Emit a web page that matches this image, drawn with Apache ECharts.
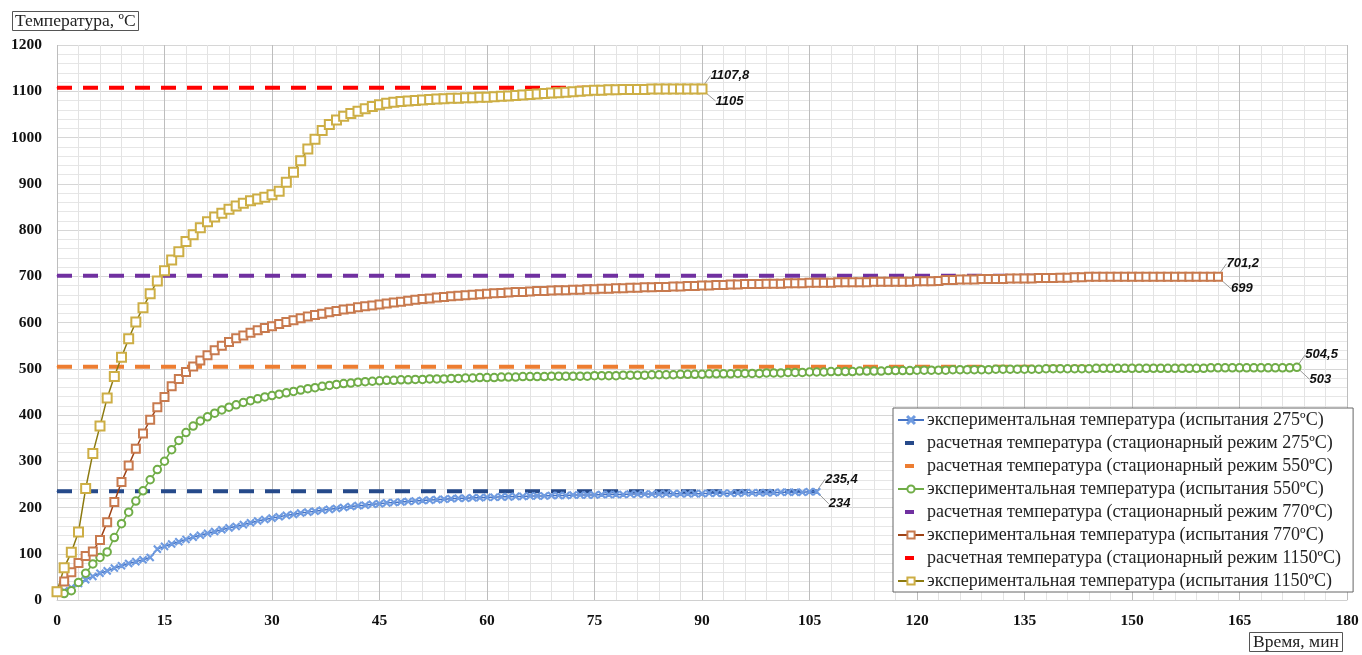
<!DOCTYPE html>
<html>
<head>
<meta charset="utf-8">
<script src="https://cdn.jsdelivr.net/npm/echarts@6/dist/echarts.min.js"></script>
<style>
  html, body { margin: 0; padding: 0; background: #fff; }
  #chart { width: 1362px; height: 655px; }
</style>
</head>
<body>
<div id="chart"></div>
<script>
// experimental curves, one value per minute starting at 0
var exp275 = [18, 20, 27, 36, 44, 51, 58, 63, 69, 74,
  79, 83, 87, 92, 110, 116, 121, 126, 131, 136,
  140, 144, 148, 152, 156, 159, 163, 167, 171, 174,
  177, 180, 183, 185, 188, 190, 192, 194, 196, 198,
  200, 202, 204, 205, 207, 208, 210, 211, 212, 213,
  214, 215, 216, 217, 218, 219, 220, 220, 221, 221,
  222, 222, 223, 223, 224, 224, 225, 225, 225, 226,
  226, 226, 227, 227, 227, 227, 228, 228, 228, 228,
  229, 229, 229, 229, 229, 230, 230, 230, 230, 230,
  230, 231, 231, 231, 231, 231, 232, 232, 232, 232,
  232, 233, 233, 233, 233, 234, 234]
var exp550 = [18, 14, 20, 38, 58, 78, 92, 104, 135, 165,
  190, 214, 236, 260, 282, 300, 325, 345, 362, 376,
  387, 396, 404, 411, 417, 422, 427, 431, 435, 439,
  442, 445, 448, 451, 454, 457, 459, 462, 464, 466,
  468, 469, 471, 472, 473, 474, 475, 475, 476, 476,
  477, 477, 478, 478, 478, 479, 479, 480, 480, 481,
  481, 481, 482, 482, 482, 483, 483, 483, 483, 484,
  484, 484, 484, 484, 484, 485, 485, 485, 485, 486,
  486, 486, 486, 487, 487, 487, 487, 488, 488, 488,
  488, 489, 489, 489, 489, 490, 490, 490, 490, 491,
  491, 491, 492, 492, 492, 493, 493, 493, 494, 494,
  494, 494, 495, 495, 495, 495, 496, 496, 496, 496,
  497, 497, 497, 497, 497, 498, 498, 498, 498, 498,
  498, 499, 499, 499, 499, 499, 499, 499, 500, 500,
  500, 500, 500, 500, 500, 501, 501, 501, 501, 501,
  501, 501, 501, 501, 501, 501, 501, 501, 501, 501,
  501, 502, 502, 502, 502, 502, 502, 502, 502, 502,
  502, 502, 502, 503]
var exp770 = [18, 40, 60, 80, 95, 105, 130, 168, 212, 255,
  291, 327, 360, 390, 417, 439, 462, 478, 493, 505,
  518, 529, 540, 550, 558, 566, 572, 578, 583, 588,
  592, 597, 601, 605, 609, 613, 616, 619, 622, 625,
  628, 630, 633, 635, 637, 639, 641, 643, 645, 647,
  649, 651, 652, 654, 655, 657, 658, 659, 660, 661,
  662, 663, 664, 665, 666, 666, 667, 668, 668, 669,
  670, 670, 671, 671, 672, 672, 673, 673, 674, 674,
  675, 675, 676, 676, 677, 677, 678, 678, 679, 679,
  680, 680, 681, 681, 682, 682, 683, 683, 683, 684,
  684, 684, 685, 685, 685, 686, 686, 686, 686, 687,
  687, 687, 687, 687, 688, 688, 688, 688, 688, 688,
  689, 689, 689, 690, 692, 692, 693, 693, 693, 694,
  694, 694, 694, 695, 695, 695, 695, 696, 696, 696,
  697, 697, 698, 698, 699, 699, 699, 699, 699, 699,
  699, 699, 699, 699, 699, 699, 699, 699, 699, 699,
  699, 699, 699]
var exp1150 = [18, 70, 103, 147, 241, 317, 376, 437, 483, 525,
  565, 601, 632, 662, 690, 712, 735, 753, 775, 790,
  805, 818, 828, 836, 845, 852, 858, 863, 867, 871,
  876, 884, 903, 925, 950, 975, 996, 1015, 1028, 1038,
  1046, 1052, 1057, 1062, 1067, 1071, 1074, 1076, 1078, 1079,
  1080, 1081, 1082, 1083, 1084, 1085, 1085, 1086, 1086, 1087,
  1087, 1088, 1089, 1090, 1091, 1092, 1093, 1094, 1095, 1096,
  1097, 1098, 1099, 1100, 1101, 1102, 1102, 1103, 1103, 1104,
  1104, 1104, 1104, 1105, 1105, 1105, 1105, 1105, 1105, 1105,
  1105]

// calculated (steady state) levels and where each dashed line stops
var calcModes = ['275', '550', '770', '1150']
var calcValues = [235.4, 504.5, 701.2, 1107.8]
var calcEnds = [106, 173, 162, 90]
var calcLabels = ['235,4', '504,5', '701,2', '1107,8']
var expLabels = ['234', '503', '699', '1105']

var chart = echarts.init(document.getElementById('chart'))

function toPoints(arr) {
  return arr.map(function(v, i) { return [i, v] })
}

var labelStyle = {
  fontFamily: 'Liberation Sans',
  fontWeight: 'bold',
  fontStyle: 'italic',
  fontSize: 13,
  color: '#111'
}
var leader = { show: true, lineStyle: { color: '#999', width: 1 } }

// put a label (with a leader line) only on the last point
function lastLabeled(points, text) {
  var last = points.length - 1
  return points.map(function(p, i) {
    if (i !== last) return p
    return {
      value: p,
      label: Object.assign({ show: true, position: 'right', formatter: text, distance: 2 }, labelStyle)
    }
  })
}

function expSeries(name, arr, color, lineColor, symbol, size, text) {
  return {
    name: name,
    type: 'line',
    data: lastLabeled(toPoints(arr), text),
    symbol: symbol,
    symbolSize: size,
    showSymbol: true,
    lineStyle: { color: lineColor, width: 1.5 },
    itemStyle: { color: color, borderColor: color, borderWidth: 1.1 },
    labelLine: leader,
    labelLayout: { dx: 6, dy: 12 },
    z: 3
  }
}

function calcSeries(idx, color) {
  var pts = [[0, calcValues[idx]], [calcEnds[idx], calcValues[idx]]]
  return {
    name: 'расчетная температура (стационарный режим ' + calcModes[idx] + 'ºC)',
    type: 'line',
    data: lastLabeled(pts, calcLabels[idx]),
    showSymbol: true,
    symbol: 'circle',
    symbolSize: 1,
    lineStyle: { color: color, width: 4, type: [15, 11] },
    itemStyle: { color: color },
    labelLine: leader,
    labelLayout: { dx: 6, dy: -12 },
    z: 2
  }
}

var crossSymbol = 'path://M0,1L1,0L5,4L9,0L10,1L6,5L10,9L9,10L5,6L1,10L0,9L4,5Z'
// short thick dash drawn at the left part of the legend icon box
var dashIcon = 'path://M0,2H0.05V2.05H0Z M7,0H16V4H7Z M25.95,2H26V2.05H25.95Z'

var series = [
  expSeries('экспериментальная температура (испытания 275ºC)', exp275, '#6F9BE0', '#4472C4', crossSymbol, 7, expLabels[0]),
  calcSeries(0, '#264A8A'),
  calcSeries(1, '#ED7D31'),
  expSeries('экспериментальная температура (испытания 550ºC)', exp550, '#70AD47', '#70AD47', 'emptyCircle', 7.5, expLabels[1]),
  calcSeries(2, '#7030A0'),
  expSeries('экспериментальная температура (испытания 770ºC)', exp770, '#C87A4E', '#9E4215', 'emptyRect', 8, expLabels[2]),
  calcSeries(3, '#FF0000'),
  expSeries('экспериментальная температура (испытания 1150ºC)', exp1150, '#CDAE45', '#8C7A10', 'emptyRect', 9, expLabels[3])
]

var boxTitle = {
  fontFamily: 'Liberation Serif',
  fontWeight: 'normal',
  fontSize: 17.5,
  color: '#222'
}

chart.setOption({
  animation: false,
  backgroundColor: '#fff',
  title: [
    {
      text: 'Температура, ºC',
      left: 12,
      top: 11,
      padding: [1, 3],
      borderColor: '#555',
      borderWidth: 1,
      textStyle: boxTitle
    },
    {
      text: 'Время, мин',
      left: 1249,
      top: 632,
      padding: [1, 4],
      borderColor: '#555',
      borderWidth: 1,
      textStyle: boxTitle
    }
  ],
  legend: {
    orient: 'vertical',
    left: 893,
    top: 408,
    padding: [3, 12, 2, 4],
    itemGap: 5,
    itemWidth: 26,
    itemHeight: 9,
    backgroundColor: '#fff',
    borderColor: '#666',
    borderWidth: 1,
    textStyle: { fontFamily: 'Liberation Serif', fontSize: 18, color: '#222', padding: [0, 0, 0, -2] },
    data: series.map(function(s) {
      if (s.symbol === 'circle') {
        return { name: s.name, icon: dashIcon, itemStyle: { color: s.lineStyle.color } }
      }
      return s.name
    })
  },
  grid: { left: 57, top: 45, width: 1290, height: 555, containLabel: false },
  xAxis: {
    type: 'value',
    min: 0,
    max: 180,
    interval: 15,
    axisLine: { show: true, lineStyle: { color: '#d0d0d0' } },
    axisTick: { show: false },
    axisLabel: { margin: 13, fontFamily: 'Liberation Serif', fontWeight: 'bold', fontSize: 15.5, color: '#111' },
    splitLine: { show: true, lineStyle: { color: '#bdbdbd', width: 1 } },
    minorTick: { show: false, splitNumber: 5 },
    minorSplitLine: { show: true, lineStyle: { color: '#e3e3e3', width: 1 } }
  },
  yAxis: {
    type: 'value',
    min: 0,
    max: 1200,
    interval: 100,
    axisLine: { show: false },
    axisTick: { show: false },
    axisLabel: {
      margin: 15,
      fontFamily: 'Liberation Serif',
      fontWeight: 'bold',
      fontSize: 15.5,
      color: '#111',
      formatter: function(v) { return String(v) }
    },
    splitLine: { show: true, lineStyle: { color: '#d6d6d6', width: 1 } },
    minorTick: { show: false, splitNumber: 5 },
    minorSplitLine: { show: true, lineStyle: { color: '#e6e6e6', width: 1 } }
  },
  series: series
})
</script>
</body>
</html>
